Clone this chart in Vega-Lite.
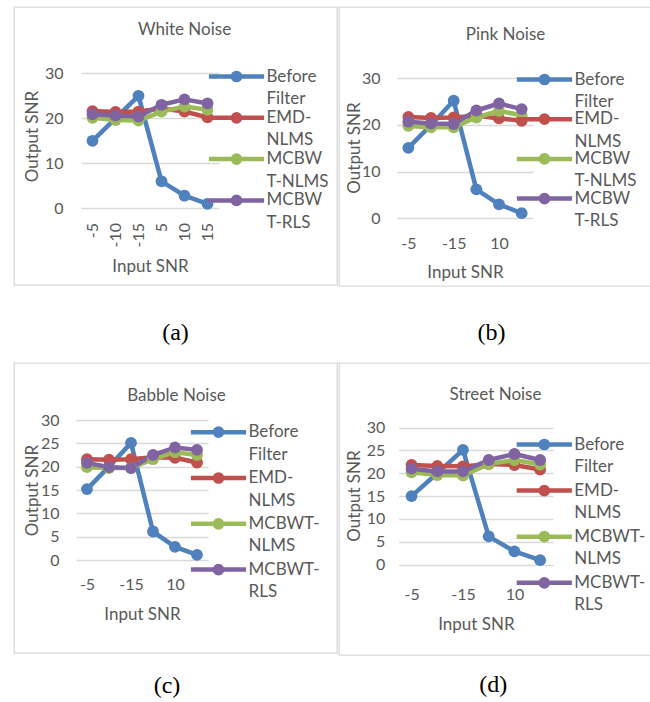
{
  "$schema": "https://vega.github.io/schema/vega-lite/v6.json",
  "padding": {"left": 13, "top": 6, "right": 0, "bottom": 0},
  "background": "white",
  "datasets": {
    "snr": [
      {"noise": "White Noise", "method": "Before Filter", "input": "-5", "output": 15},
      {"noise": "White Noise", "method": "Before Filter", "input": "-10", "output": 20},
      {"noise": "White Noise", "method": "Before Filter", "input": "-15", "output": 25},
      {"noise": "White Noise", "method": "Before Filter", "input": "5", "output": 6},
      {"noise": "White Noise", "method": "Before Filter", "input": "10", "output": 2.8},
      {"noise": "White Noise", "method": "Before Filter", "input": "15", "output": 1},
      {"noise": "White Noise", "method": "EMD-NLMS", "input": "-5", "output": 21.6},
      {"noise": "White Noise", "method": "EMD-NLMS", "input": "-10", "output": 21.4},
      {"noise": "White Noise", "method": "EMD-NLMS", "input": "-15", "output": 21.5},
      {"noise": "White Noise", "method": "EMD-NLMS", "input": "5", "output": 22.2},
      {"noise": "White Noise", "method": "EMD-NLMS", "input": "10", "output": 21.5},
      {"noise": "White Noise", "method": "EMD-NLMS", "input": "15", "output": 20.2},
      {"noise": "White Noise", "method": "MCBWT-NLMS", "input": "-5", "output": 20.1},
      {"noise": "White Noise", "method": "MCBWT-NLMS", "input": "-10", "output": 19.6},
      {"noise": "White Noise", "method": "MCBWT-NLMS", "input": "-15", "output": 19.5},
      {"noise": "White Noise", "method": "MCBWT-NLMS", "input": "5", "output": 21.5},
      {"noise": "White Noise", "method": "MCBWT-NLMS", "input": "10", "output": 22.6},
      {"noise": "White Noise", "method": "MCBWT-NLMS", "input": "15", "output": 21.9},
      {"noise": "White Noise", "method": "MCBWT-RLS", "input": "-5", "output": 20.9},
      {"noise": "White Noise", "method": "MCBWT-RLS", "input": "-10", "output": 20.6},
      {"noise": "White Noise", "method": "MCBWT-RLS", "input": "-15", "output": 20.4},
      {"noise": "White Noise", "method": "MCBWT-RLS", "input": "5", "output": 23},
      {"noise": "White Noise", "method": "MCBWT-RLS", "input": "10", "output": 24.2},
      {"noise": "White Noise", "method": "MCBWT-RLS", "input": "15", "output": 23.3},

      {"noise": "Pink Noise", "method": "Before Filter", "input": "-5", "output": 15.1},
      {"noise": "Pink Noise", "method": "Before Filter", "input": "-10", "output": 20},
      {"noise": "Pink Noise", "method": "Before Filter", "input": "-15", "output": 25.2},
      {"noise": "Pink Noise", "method": "Before Filter", "input": "5", "output": 6.2},
      {"noise": "Pink Noise", "method": "Before Filter", "input": "10", "output": 3},
      {"noise": "Pink Noise", "method": "Before Filter", "input": "15", "output": 1.1},
      {"noise": "Pink Noise", "method": "EMD-NLMS", "input": "-5", "output": 21.7},
      {"noise": "Pink Noise", "method": "EMD-NLMS", "input": "-10", "output": 21.5},
      {"noise": "Pink Noise", "method": "EMD-NLMS", "input": "-15", "output": 21.6},
      {"noise": "Pink Noise", "method": "EMD-NLMS", "input": "5", "output": 22},
      {"noise": "Pink Noise", "method": "EMD-NLMS", "input": "10", "output": 21.4},
      {"noise": "Pink Noise", "method": "EMD-NLMS", "input": "15", "output": 20.9},
      {"noise": "Pink Noise", "method": "MCBWT-NLMS", "input": "-5", "output": 19.8},
      {"noise": "Pink Noise", "method": "MCBWT-NLMS", "input": "-10", "output": 19.5},
      {"noise": "Pink Noise", "method": "MCBWT-NLMS", "input": "-15", "output": 19.5},
      {"noise": "Pink Noise", "method": "MCBWT-NLMS", "input": "5", "output": 21.6},
      {"noise": "Pink Noise", "method": "MCBWT-NLMS", "input": "10", "output": 23},
      {"noise": "Pink Noise", "method": "MCBWT-NLMS", "input": "15", "output": 22.1},
      {"noise": "Pink Noise", "method": "MCBWT-RLS", "input": "-5", "output": 20.7},
      {"noise": "Pink Noise", "method": "MCBWT-RLS", "input": "-10", "output": 20.3},
      {"noise": "Pink Noise", "method": "MCBWT-RLS", "input": "-15", "output": 20.2},
      {"noise": "Pink Noise", "method": "MCBWT-RLS", "input": "5", "output": 23.1},
      {"noise": "Pink Noise", "method": "MCBWT-RLS", "input": "10", "output": 24.6},
      {"noise": "Pink Noise", "method": "MCBWT-RLS", "input": "15", "output": 23.4},

      {"noise": "Babble Noise", "method": "Before Filter", "input": "-5", "output": 15.2},
      {"noise": "Babble Noise", "method": "Before Filter", "input": "-10", "output": 20},
      {"noise": "Babble Noise", "method": "Before Filter", "input": "-15", "output": 25.1},
      {"noise": "Babble Noise", "method": "Before Filter", "input": "5", "output": 6.1},
      {"noise": "Babble Noise", "method": "Before Filter", "input": "10", "output": 2.8},
      {"noise": "Babble Noise", "method": "Before Filter", "input": "15", "output": 1.1},
      {"noise": "Babble Noise", "method": "EMD-NLMS", "input": "-5", "output": 21.6},
      {"noise": "Babble Noise", "method": "EMD-NLMS", "input": "-10", "output": 21.5},
      {"noise": "Babble Noise", "method": "EMD-NLMS", "input": "-15", "output": 21.6},
      {"noise": "Babble Noise", "method": "EMD-NLMS", "input": "5", "output": 22},
      {"noise": "Babble Noise", "method": "EMD-NLMS", "input": "10", "output": 21.9},
      {"noise": "Babble Noise", "method": "EMD-NLMS", "input": "15", "output": 20.9},
      {"noise": "Babble Noise", "method": "MCBWT-NLMS", "input": "-5", "output": 19.9},
      {"noise": "Babble Noise", "method": "MCBWT-NLMS", "input": "-10", "output": 19.7},
      {"noise": "Babble Noise", "method": "MCBWT-NLMS", "input": "-15", "output": 19.7},
      {"noise": "Babble Noise", "method": "MCBWT-NLMS", "input": "5", "output": 21.6},
      {"noise": "Babble Noise", "method": "MCBWT-NLMS", "input": "10", "output": 23.1},
      {"noise": "Babble Noise", "method": "MCBWT-NLMS", "input": "15", "output": 22.5},
      {"noise": "Babble Noise", "method": "MCBWT-RLS", "input": "-5", "output": 20.8},
      {"noise": "Babble Noise", "method": "MCBWT-RLS", "input": "-10", "output": 19.9},
      {"noise": "Babble Noise", "method": "MCBWT-RLS", "input": "-15", "output": 19.7},
      {"noise": "Babble Noise", "method": "MCBWT-RLS", "input": "5", "output": 22.5},
      {"noise": "Babble Noise", "method": "MCBWT-RLS", "input": "10", "output": 24.1},
      {"noise": "Babble Noise", "method": "MCBWT-RLS", "input": "15", "output": 23.6},

      {"noise": "Street Noise", "method": "Before Filter", "input": "-5", "output": 15},
      {"noise": "Street Noise", "method": "Before Filter", "input": "-10", "output": 20},
      {"noise": "Street Noise", "method": "Before Filter", "input": "-15", "output": 25.1},
      {"noise": "Street Noise", "method": "Before Filter", "input": "5", "output": 6.2},
      {"noise": "Street Noise", "method": "Before Filter", "input": "10", "output": 2.9},
      {"noise": "Street Noise", "method": "Before Filter", "input": "15", "output": 1},
      {"noise": "Street Noise", "method": "EMD-NLMS", "input": "-5", "output": 21.8},
      {"noise": "Street Noise", "method": "EMD-NLMS", "input": "-10", "output": 21.6},
      {"noise": "Street Noise", "method": "EMD-NLMS", "input": "-15", "output": 21.5},
      {"noise": "Street Noise", "method": "EMD-NLMS", "input": "5", "output": 22},
      {"noise": "Street Noise", "method": "EMD-NLMS", "input": "10", "output": 21.8},
      {"noise": "Street Noise", "method": "EMD-NLMS", "input": "15", "output": 20.8},
      {"noise": "Street Noise", "method": "MCBWT-NLMS", "input": "-5", "output": 20.2},
      {"noise": "Street Noise", "method": "MCBWT-NLMS", "input": "-10", "output": 19.6},
      {"noise": "Street Noise", "method": "MCBWT-NLMS", "input": "-15", "output": 19.5},
      {"noise": "Street Noise", "method": "MCBWT-NLMS", "input": "5", "output": 22},
      {"noise": "Street Noise", "method": "MCBWT-NLMS", "input": "10", "output": 22.9},
      {"noise": "Street Noise", "method": "MCBWT-NLMS", "input": "15", "output": 21.9},
      {"noise": "Street Noise", "method": "MCBWT-RLS", "input": "-5", "output": 21},
      {"noise": "Street Noise", "method": "MCBWT-RLS", "input": "-10", "output": 20.4},
      {"noise": "Street Noise", "method": "MCBWT-RLS", "input": "-15", "output": 20.4},
      {"noise": "Street Noise", "method": "MCBWT-RLS", "input": "5", "output": 22.9},
      {"noise": "Street Noise", "method": "MCBWT-RLS", "input": "10", "output": 24.2},
      {"noise": "Street Noise", "method": "MCBWT-RLS", "input": "15", "output": 22.9}
    ]
  },
  "data": {"name": "snr"},
  "columns": 2,
  "spacing": {"row": 17, "column": 0},
  "resolve": {"scale": {"color": "independent"}, "legend": {"color": "independent"}},
  "concat": [
    {
      "title": {"text": "(a)", "orient": "bottom", "anchor": "middle", "offset": 54, "baseline": "alphabetic", "font": "Liberation Serif", "fontSize": 24, "fontWeight": "normal", "color": "#000000", "dx": 0},
      "resolve": {"scale": {"color": "independent"}, "legend": {"color": "independent"}},
      "vconcat": [
        {
          "width": 323, "height": 278,
          "transform": [{"filter": "datum.noise === 'White Noise'"}],
          "encoding": {
            "x": {"field": "input", "type": "ordinal", "sort": null,
              "scale": {"type": "point", "domain": ["-5", "-10", "-15", "5", "10", "15"], "range": [67, 205], "padding": 0.5},
              "axis": {"title": "Input SNR", "labelAngle": -90, "labelPadding": 0, "offset": -62.5, "titleY": 48.5, "titleBaseline": "alphabetic"}},
            "y": {"field": "output", "type": "quantitative",
              "scale": {"domain": [0, 30], "range": [201.3, 66.3], "nice": false, "zero": false},
              "axis": {"title": "Output SNR", "values": [0, 10, 20, 30], "offset": -49, "labelPadding": 0, "titleX": -26, "titleY": 129, "titleBaseline": "alphabetic", "titleAlign": "center", "titleAngle": -90}},
            "color": {"field": "method", "type": "nominal",
              "scale": {"domain": ["Before Filter", "EMD-NLMS", "MCBWT-NLMS", "MCBWT-RLS"], "range": ["#4F81BD", "#C0504D", "#9BBB59", "#8064A2"]},
              "legend": {"orient": "none", "legendX": 214, "legendY": 61, "title": null, "padding": 0, "rowPadding": -2.7, "labelOffset": 21.5, "symbolSize": 144,
                "symbolType": "M-4.6,0L4.6,0M-0.6,0A0.6,0.6,0,1,0,0.6,0A0.6,0.6,0,1,0,-0.6,0Z",
                "labelExpr": "datum.value === 'Before Filter' ? ['Before', 'Filter'] : datum.value === 'EMD-NLMS' ? ['EMD-', 'NLMS'] : datum.value === 'MCBWT-NLMS' ? ['MCBW', 'T-NLMS'] : ['MCBW', 'T-RLS']",
                "encode": {
                  "symbols": {"update": {
                    "shape": {"value": "M-4.6,0L4.6,0M-0.6,0A0.6,0.6,0,1,0,0.6,0A0.6,0.6,0,1,0,-0.6,0Z"},
                    "fill": {"signal": "datum.value === 'Before Filter' ? '#4F81BD' : datum.value === 'EMD-NLMS' ? '#C0504D' : datum.value === 'MCBWT-NLMS' ? '#9BBB59' : '#8064A2'"},
                    "stroke": {"signal": "datum.value === 'Before Filter' ? '#4F81BD' : datum.value === 'EMD-NLMS' ? '#C0504D' : datum.value === 'MCBWT-NLMS' ? '#9BBB59' : '#8064A2'"},
                    "strokeWidth": {"value": 4.5},
                    "opacity": {"value": 1}
                  }},
                  "labels": {"update": {"lineHeight": {"value": 22.5}}}
                }}}
          },
          "layer": [
            {"mark": {"type": "line", "strokeWidth": 4.5, "strokeJoin": "round", "strokeCap": "round"}},
            {"mark": {"type": "point", "filled": true, "size": 140, "opacity": 1},
             "encoding": {"x": {"field": "input", "type": "ordinal", "sort": null,
               "scale": {"type": "point", "domain": ["-5", "-10", "-15", "5", "10", "15"], "range": [67, 205], "padding": 0.5},
               "axis": {"orient": "top", "title": "White Noise", "labels": false, "ticks": false, "domain": false, "grid": false, "offset": 0, "minExtent": 0, "maxExtent": 0, "titleX": 170, "titleY": 27, "titleBaseline": "alphabetic", "titleAlign": "center", "titleAngle": 0}}}}
          ],
          "resolve": {"axis": {"x": "independent"}}
        }
      ]
    },
    {
      "title": {"text": "(b)", "orient": "bottom", "anchor": "middle", "offset": 53, "baseline": "alphabetic", "font": "Liberation Serif", "fontSize": 24, "fontWeight": "normal", "color": "#000000", "dx": -3.5},
      "resolve": {"scale": {"color": "independent"}, "legend": {"color": "independent"}},
      "vconcat": [
        {
          "width": 312, "height": 279,
          "transform": [{"filter": "datum.noise === 'Pink Noise'"}],
          "encoding": {
            "x": {"field": "input", "type": "ordinal", "sort": null,
              "scale": {"type": "point", "domain": ["-5", "-10", "-15", "5", "10", "15"], "range": [58, 194], "padding": 0.5},
              "axis": {"title": "Input SNR", "values": ["-5", "-15", "10"], "labelAngle": 0, "labelAlign": "center", "labelBaseline": "alphabetic", "labelPadding": 0, "offset": -38, "titleY": 29, "titleBaseline": "alphabetic"}},
            "y": {"field": "output", "type": "quantitative",
              "scale": {"domain": [0, 30], "range": [211.3, 71.3], "nice": false, "zero": false},
              "axis": {"title": "Output SNR", "values": [0, 10, 20, 30], "offset": -41, "labelPadding": 0, "titleX": -21, "titleY": 140.5, "titleBaseline": "alphabetic", "titleAlign": "center", "titleAngle": -90}},
            "color": {"field": "method", "type": "nominal",
              "scale": {"domain": ["Before Filter", "EMD-NLMS", "MCBWT-NLMS", "MCBWT-RLS"], "range": ["#4F81BD", "#C0504D", "#9BBB59", "#8064A2"]},
              "legend": {"orient": "none", "legendX": 197, "legendY": 64, "title": null, "padding": 0, "rowPadding": -4.3, "labelOffset": 21.5, "symbolSize": 144,
                "symbolType": "M-4.6,0L4.6,0M-0.6,0A0.6,0.6,0,1,0,0.6,0A0.6,0.6,0,1,0,-0.6,0Z",
                "labelExpr": "datum.value === 'Before Filter' ? ['Before', 'Filter'] : datum.value === 'EMD-NLMS' ? ['EMD-', 'NLMS'] : datum.value === 'MCBWT-NLMS' ? ['MCBW', 'T-NLMS'] : ['MCBW', 'T-RLS']",
                "encode": {
                  "symbols": {"update": {
                    "shape": {"value": "M-4.6,0L4.6,0M-0.6,0A0.6,0.6,0,1,0,0.6,0A0.6,0.6,0,1,0,-0.6,0Z"},
                    "fill": {"signal": "datum.value === 'Before Filter' ? '#4F81BD' : datum.value === 'EMD-NLMS' ? '#C0504D' : datum.value === 'MCBWT-NLMS' ? '#9BBB59' : '#8064A2'"},
                    "stroke": {"signal": "datum.value === 'Before Filter' ? '#4F81BD' : datum.value === 'EMD-NLMS' ? '#C0504D' : datum.value === 'MCBWT-NLMS' ? '#9BBB59' : '#8064A2'"},
                    "strokeWidth": {"value": 4.5},
                    "opacity": {"value": 1}
                  }},
                  "labels": {"update": {"lineHeight": {"value": 22.5}}}
                }}}
          },
          "layer": [
            {"mark": {"type": "line", "strokeWidth": 4.5, "strokeJoin": "round", "strokeCap": "round"}},
            {"mark": {"type": "point", "filled": true, "size": 140, "opacity": 1},
             "encoding": {"x": {"field": "input", "type": "ordinal", "sort": null,
               "scale": {"type": "point", "domain": ["-5", "-10", "-15", "5", "10", "15"], "range": [58, 194], "padding": 0.5},
               "axis": {"orient": "top", "title": "Pink Noise", "labels": false, "ticks": false, "domain": false, "grid": false, "offset": 0, "minExtent": 0, "maxExtent": 0, "titleX": 166, "titleY": 32, "titleBaseline": "alphabetic", "titleAlign": "center", "titleAngle": 0}}}}
          ],
          "resolve": {"axis": {"x": "independent"}}
        }
      ]
    },
    {
      "title": {"text": "(c)", "orient": "bottom", "anchor": "middle", "offset": 39, "baseline": "alphabetic", "font": "Liberation Serif", "fontSize": 24, "fontWeight": "normal", "color": "#000000", "dx": -8.5},
      "resolve": {"scale": {"color": "independent"}, "legend": {"color": "independent"}},
      "vconcat": [
        {
          "width": 323, "height": 290,
          "transform": [{"filter": "datum.noise === 'Babble Noise'"}],
          "encoding": {
            "x": {"field": "input", "type": "ordinal", "sort": null,
              "scale": {"type": "point", "domain": ["-5", "-10", "-15", "5", "10", "15"], "range": [62, 194], "padding": 0.5},
              "axis": {"title": "Input SNR", "values": ["-5", "-15", "10"], "labelAngle": 0, "labelAlign": "center", "labelBaseline": "alphabetic", "labelPadding": 0, "offset": -63.3, "titleY": 30, "titleBaseline": "alphabetic"}},
            "y": {"field": "output", "type": "quantitative",
              "scale": {"domain": [0, 30], "range": [197, 57], "nice": false, "zero": false},
              "axis": {"title": "Output SNR", "values": [0, 5, 10, 15, 20, 25, 30], "offset": -45, "labelPadding": 0, "titleX": -22, "titleY": 127, "titleBaseline": "alphabetic", "titleAlign": "center", "titleAngle": -90}},
            "color": {"field": "method", "type": "nominal",
              "scale": {"domain": ["Before Filter", "EMD-NLMS", "MCBWT-NLMS", "MCBWT-RLS"], "range": ["#4F81BD", "#C0504D", "#9BBB59", "#8064A2"]},
              "legend": {"orient": "none", "legendX": 196, "legendY": 60.7, "title": null, "padding": 0, "rowPadding": 1.8, "labelOffset": 21.5, "symbolSize": 144,
                "symbolType": "M-4.6,0L4.6,0M-0.6,0A0.6,0.6,0,1,0,0.6,0A0.6,0.6,0,1,0,-0.6,0Z",
                "labelExpr": "datum.value === 'Before Filter' ? ['Before', 'Filter'] : datum.value === 'EMD-NLMS' ? ['EMD-', 'NLMS'] : datum.value === 'MCBWT-NLMS' ? ['MCBWT-', 'NLMS'] : ['MCBWT-', 'RLS']",
                "encode": {
                  "symbols": {"update": {
                    "shape": {"value": "M-4.6,0L4.6,0M-0.6,0A0.6,0.6,0,1,0,0.6,0A0.6,0.6,0,1,0,-0.6,0Z"},
                    "fill": {"signal": "datum.value === 'Before Filter' ? '#4F81BD' : datum.value === 'EMD-NLMS' ? '#C0504D' : datum.value === 'MCBWT-NLMS' ? '#9BBB59' : '#8064A2'"},
                    "stroke": {"signal": "datum.value === 'Before Filter' ? '#4F81BD' : datum.value === 'EMD-NLMS' ? '#C0504D' : datum.value === 'MCBWT-NLMS' ? '#9BBB59' : '#8064A2'"},
                    "strokeWidth": {"value": 4.5},
                    "opacity": {"value": 1}
                  }},
                  "labels": {"update": {"lineHeight": {"value": 22.5}}}
                }}}
          },
          "layer": [
            {"mark": {"type": "line", "strokeWidth": 4.5, "strokeJoin": "round", "strokeCap": "round"}},
            {"mark": {"type": "point", "filled": true, "size": 140, "opacity": 1},
             "encoding": {"x": {"field": "input", "type": "ordinal", "sort": null,
               "scale": {"type": "point", "domain": ["-5", "-10", "-15", "5", "10", "15"], "range": [62, 194], "padding": 0.5},
               "axis": {"orient": "top", "title": "Babble Noise", "labels": false, "ticks": false, "domain": false, "grid": false, "offset": 0, "minExtent": 0, "maxExtent": 0, "titleX": 162, "titleY": 37.7, "titleBaseline": "alphabetic", "titleAlign": "center", "titleAngle": 0}}}}
          ],
          "resolve": {"axis": {"x": "independent"}}
        }
      ]
    },
    {
      "title": {"text": "(d)", "orient": "bottom", "anchor": "middle", "offset": 36, "baseline": "alphabetic", "font": "Liberation Serif", "fontSize": 24, "fontWeight": "normal", "color": "#000000", "dx": -1.8},
      "resolve": {"scale": {"color": "independent"}, "legend": {"color": "independent"}},
      "vconcat": [
        {
          "width": 312, "height": 292,
          "transform": [{"filter": "datum.noise === 'Street Noise'"}],
          "encoding": {
            "x": {"field": "input", "type": "ordinal", "sort": null,
              "scale": {"type": "point", "domain": ["-5", "-10", "-15", "5", "10", "15"], "range": [59.7, 214], "padding": 0.5},
              "axis": {"title": "Input SNR", "values": ["-5", "-15", "10"], "labelAngle": 0, "labelAlign": "center", "labelBaseline": "alphabetic", "labelPadding": 0, "offset": -55.3, "titleY": 30, "titleBaseline": "alphabetic"}},
            "y": {"field": "output", "type": "quantitative",
              "scale": {"domain": [0, 30], "range": [201.7, 64.5], "nice": false, "zero": false},
              "axis": {"title": "Output SNR", "values": [0, 5, 10, 15, 20, 25, 30], "offset": -45.7, "labelPadding": 0, "titleX": -25.7, "titleY": 132.5, "titleBaseline": "alphabetic", "titleAlign": "center", "titleAngle": -90}},
            "color": {"field": "method", "type": "nominal",
              "scale": {"domain": ["Before Filter", "EMD-NLMS", "MCBWT-NLMS", "MCBWT-RLS"], "range": ["#4F81BD", "#C0504D", "#9BBB59", "#8064A2"]},
              "legend": {"orient": "none", "legendX": 196.8, "legendY": 73, "title": null, "padding": 0, "rowPadding": 2.1, "labelOffset": 21.5, "symbolSize": 144,
                "symbolType": "M-4.6,0L4.6,0M-0.6,0A0.6,0.6,0,1,0,0.6,0A0.6,0.6,0,1,0,-0.6,0Z",
                "labelExpr": "datum.value === 'Before Filter' ? ['Before', 'Filter'] : datum.value === 'EMD-NLMS' ? ['EMD-', 'NLMS'] : datum.value === 'MCBWT-NLMS' ? ['MCBWT-', 'NLMS'] : ['MCBWT-', 'RLS']",
                "encode": {
                  "symbols": {"update": {
                    "shape": {"value": "M-4.6,0L4.6,0M-0.6,0A0.6,0.6,0,1,0,0.6,0A0.6,0.6,0,1,0,-0.6,0Z"},
                    "fill": {"signal": "datum.value === 'Before Filter' ? '#4F81BD' : datum.value === 'EMD-NLMS' ? '#C0504D' : datum.value === 'MCBWT-NLMS' ? '#9BBB59' : '#8064A2'"},
                    "stroke": {"signal": "datum.value === 'Before Filter' ? '#4F81BD' : datum.value === 'EMD-NLMS' ? '#C0504D' : datum.value === 'MCBWT-NLMS' ? '#9BBB59' : '#8064A2'"},
                    "strokeWidth": {"value": 4.5},
                    "opacity": {"value": 1}
                  }},
                  "labels": {"update": {"lineHeight": {"value": 22.5}}}
                }}}
          },
          "layer": [
            {"mark": {"type": "line", "strokeWidth": 4.5, "strokeJoin": "round", "strokeCap": "round"}},
            {"mark": {"type": "point", "filled": true, "size": 140, "opacity": 1},
             "encoding": {"x": {"field": "input", "type": "ordinal", "sort": null,
               "scale": {"type": "point", "domain": ["-5", "-10", "-15", "5", "10", "15"], "range": [59.7, 214], "padding": 0.5},
               "axis": {"orient": "top", "title": "Street Noise", "labels": false, "ticks": false, "domain": false, "grid": false, "offset": 0, "minExtent": 0, "maxExtent": 0, "titleX": 156, "titleY": 36.7, "titleBaseline": "alphabetic", "titleAlign": "center", "titleAngle": 0}}}}
          ],
          "resolve": {"axis": {"x": "independent"}}
        }
      ]
    }
  ],
  "config": {
    "font": "Lato",
    "view": {"stroke": "#d9d9d9", "strokeWidth": 1.3},
    "title": {"font": "Lato", "fontSize": 17, "fontWeight": "normal", "color": "#595959"},
    "axis": {"labelFont": "Lato", "labelFontSize": 16, "labelColor": "#595959", "titleFont": "Lato", "titleFontSize": 17, "titleFontWeight": "normal", "titleColor": "#595959", "domain": false, "ticks": false, "grid": false},
    "axisY": {"grid": true, "gridColor": "#d9d9d9", "gridWidth": 1.5},
    "legend": {"labelFont": "Lato", "labelFontSize": 17, "labelColor": "#595959", "labelLimit": 200}
  }
}
